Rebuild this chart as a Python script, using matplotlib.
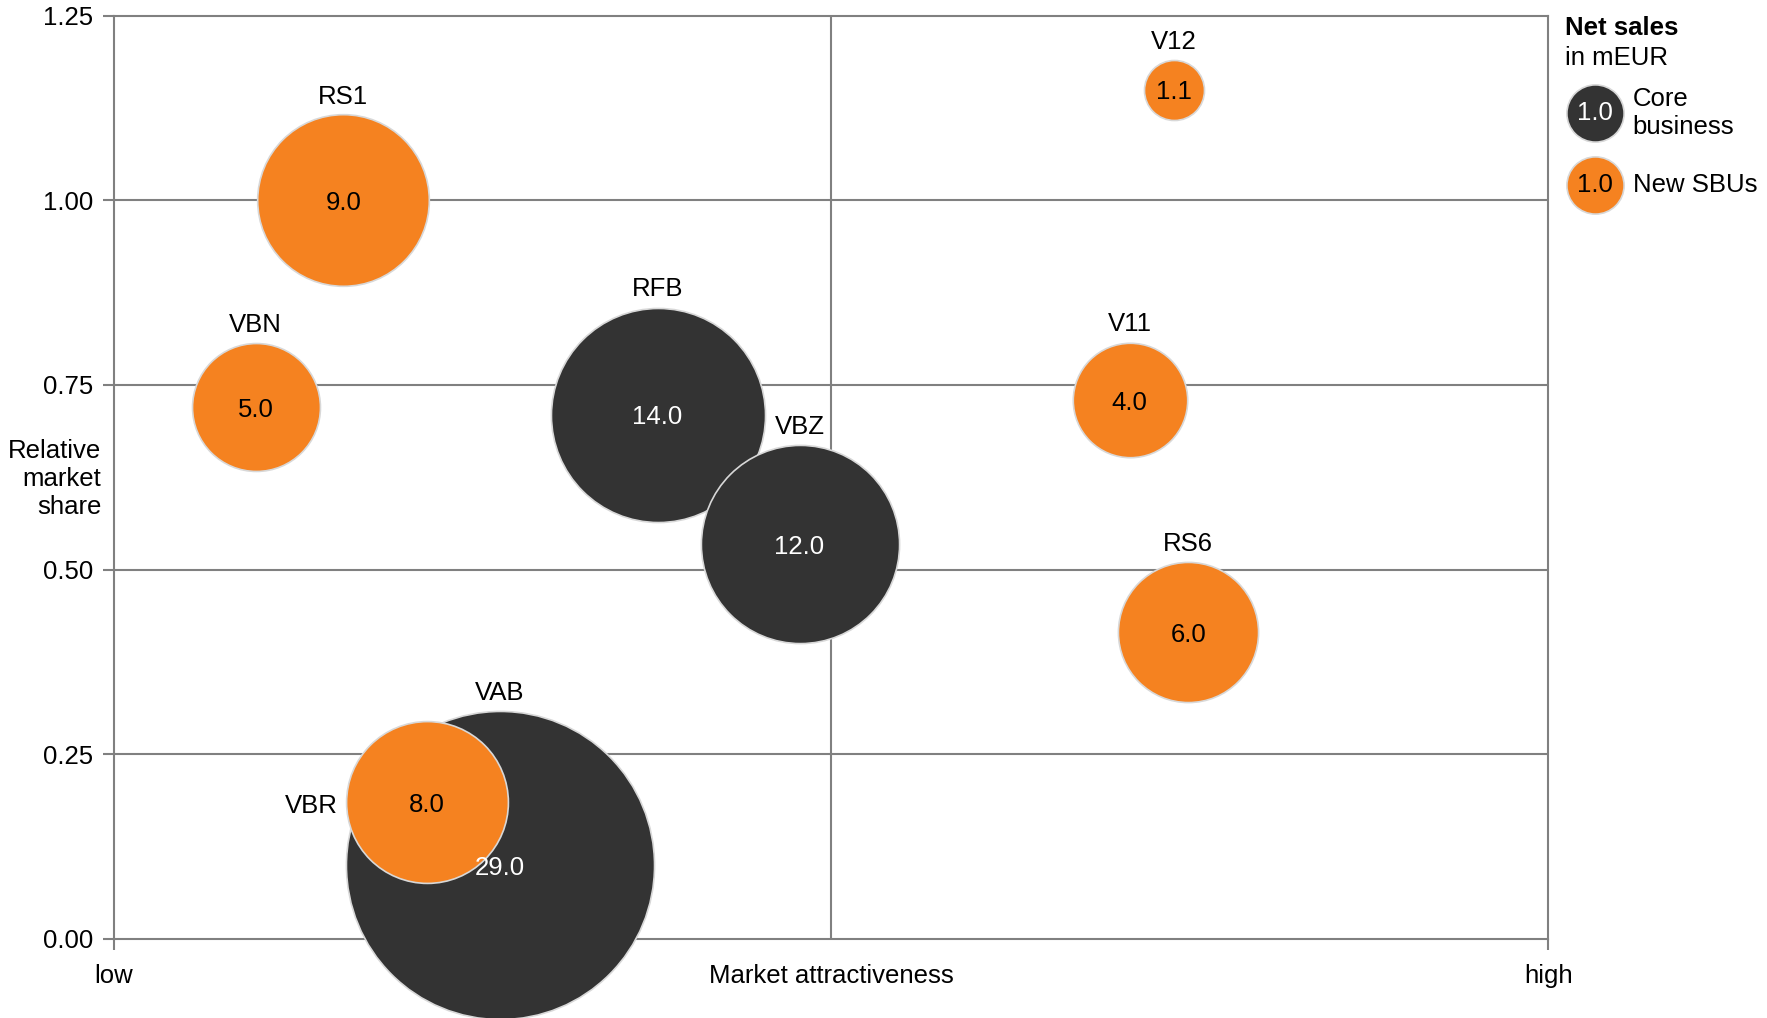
import numpy as np
import matplotlib
matplotlib.use("Agg")
import matplotlib.pyplot as plt

plt.rcParams["font.family"] = ["Liberation Sans", "DejaVu Sans"]
plt.rcParams["font.size"] = 18.5

# DATA
names = ["RS1", "V12", "VBN", "RFB", "VBZ", "V11", "RS6", "VAB", "VBR"]
attractiveness = [0.160, 0.739, 0.099, 0.379, 0.478, 0.708, 0.749, 0.269, 0.218]
market_share = [1.00, 1.15, 0.72, 0.71, 0.535, 0.73, 0.415, 0.10, 0.185]
net_sales = [9.0, 1.1, 5.0, 14.0, 12.0, 4.0, 6.0, 29.0, 8.0]
group = ["new", "new", "new", "core", "core", "new", "new", "core", "new"]
label_side = ["top", "top", "top", "top", "top", "top", "top", "top", "left"]

y_ticks = [0.0, 0.25, 0.5, 0.75, 1.0, 1.25]
x_ticks = [0.0, 0.5, 1.0]
x_tick_labels = ["low", "Market attractiveness", "high"]

DARK = "#333333"
ORANGE = "#F58220"
GRID = "#808080"
SIZE_K = 1697  # marker area (pt^2) per mEUR
colors = {"core": DARK, "new": ORANGE}
text_colors = {"core": "white", "new": "black"}

fig = plt.figure(figsize=(17.67, 10.18), dpi=100)
ax = fig.add_axes([0.0644, 0.0778, 0.8119, 0.9067])

ax.set_xlim(0, 1)
ax.set_ylim(0, 1.25)
ax.set_yticks(y_ticks)
ax.set_yticklabels([f"{v:.2f}" for v in y_ticks])
ax.set_xticks(x_ticks)
ax.set_xticklabels(x_tick_labels)
ax.tick_params(axis="both", colors=GRID, labelcolor="black", length=8, width=1.5)
ax.tick_params(axis="y", pad=7)
ax.tick_params(axis="x", pad=10)
ax.xaxis.get_major_ticks()[1].tick1line.set_visible(False)
for sp in ax.spines.values():
    sp.set_color(GRID)
    sp.set_linewidth(1.5)
for yv in y_ticks[1:-1]:
    ax.axhline(yv, color=GRID, lw=1.5, zorder=1)
ax.axvline(0.5, color=GRID, lw=1.5, zorder=1)

for i, (n, x, y, v, g, side) in enumerate(zip(names, attractiveness, market_share,
                                                net_sales, group, label_side)):
    ax.scatter([x], [y], s=SIZE_K * v, color=colors[g], edgecolor="#d8d8d8",
               linewidth=1.2, zorder=3 + i, clip_on=False)
    r_pt = np.sqrt(SIZE_K * v) / 2
    if side == "top":
        ax.annotate(n, (x, y), xytext=(0, r_pt + 13), textcoords="offset points",
                    ha="center", va="center", zorder=30)
    else:
        ax.annotate(n, (x, y), xytext=(-(r_pt + 6), -3), textcoords="offset points",
                    ha="right", va="center", zorder=30)
    ax.annotate(f"{v:.1f}", (x, y), xytext=(0, -2), textcoords="offset points",
                ha="center", va="center", color=text_colors[g], zorder=31)

fig.text(0.0574, 0.5295, "Relative\nmarket\nshare", ha="right", va="center",
         multialignment="right", linespacing=1.2)

# legend
leg = fig.add_axes([0, 0, 1, 1])
leg.set_xlim(0, 1)
leg.set_ylim(0, 1)
leg.axis("off")
leg.text(0.8857, 0.9725, "Net sales", weight="bold", ha="left", va="center")
leg.text(0.8857, 0.9435, "in mEUR", ha="left", va="center")
for g, yy, lab in [("core", 0.889, "Core\nbusiness"), ("new", 0.818, "New SBUs")]:
    leg.scatter([0.9026], [yy], s=SIZE_K * 1.0, color=colors[g], edgecolor="#d8d8d8",
                linewidth=1.2)
    leg.text(0.9026, yy, "1.0", ha="center", va="center", color=text_colors[g])
    leg.text(0.924, yy, lab, ha="left", va="center", linespacing=1.2)

fig.savefig("out.png", dpi=100)
